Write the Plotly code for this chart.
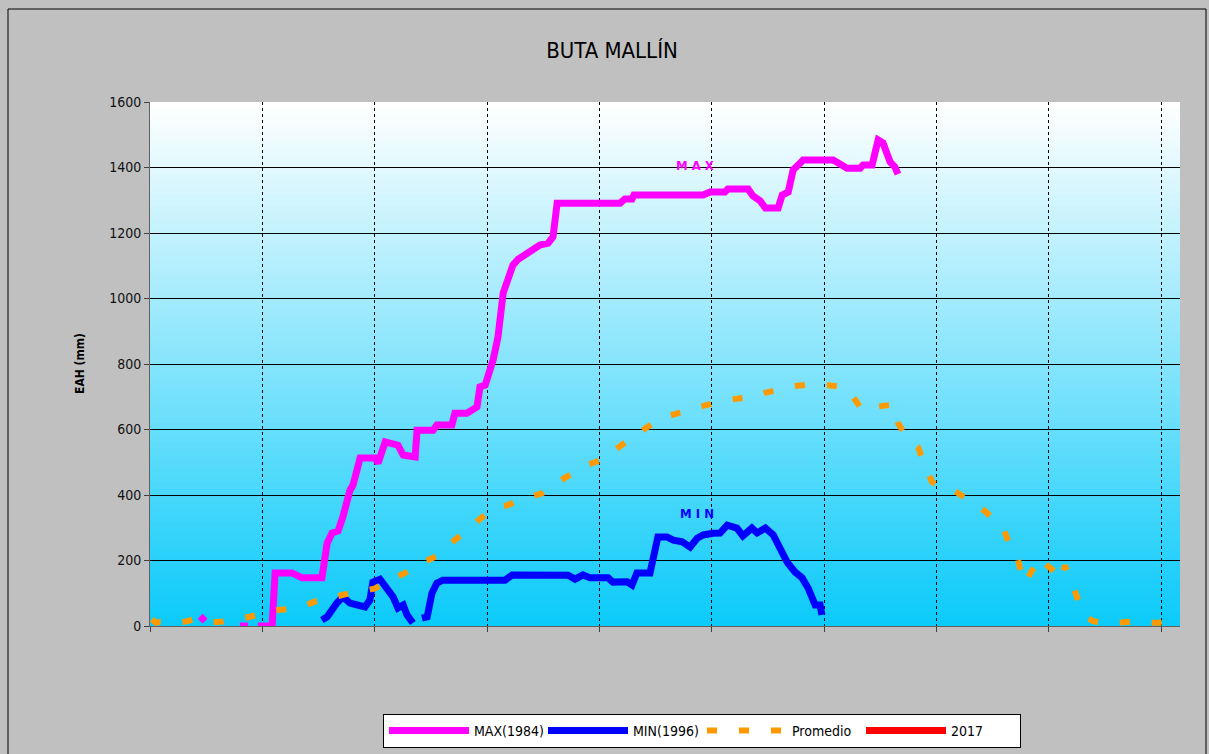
import plotly.graph_objects as go

# day index (0 = start of record), EAH in mm
max_day = [13.4, 14.7, None, 24.0, 26.2, None, 28.8, 32.6, 33.4, 37.9, 40.6, 45.9,
           47.3, 48.6, 50.2, 51.5, 53.4, 54.2, 56.1, 60.1, 60.9, 62.8, 66.2, 67.6,
           70.8, 71.3, 75.6, 76.6, 80.6, 81.4, 84.6, 87.3, 88.1, 89.5, 91.6, 92.9,
           94.3, 95.6, 96.9, 98.3, 100.1, 102.3, 104.1, 106.3, 107.6, 108.7, 125.5, 126.8,
           128.7, 129.2, 147.7, 149.5, 153.5, 154.3, 159.7, 161.0, 162.9, 164.3, 167.7, 168.8,
           170.4, 171.7, 174.4, 182.4, 186.1, 189.6, 190.4, 192.8, 194.4, 195.7, 197.6, 198.9, 199.7]
max_val = [30, 15, None, 0, 0, None, 0, 0, 162, 162, 147, 147,
           253, 284, 290, 333, 415, 430, 513, 513, 497, 562, 552, 522,
           516, 598, 598, 614, 614, 650, 650, 669, 730, 736, 812, 882,
           1017, 1056, 1102, 1120, 1133, 1154, 1163, 1169, 1188, 1291, 1291, 1304,
           1304, 1316, 1316, 1325, 1325, 1334, 1334, 1313, 1298, 1276, 1276, 1316,
           1325, 1392, 1423, 1423, 1398, 1398, 1408, 1408, 1484, 1475, 1417, 1401, 1380]

min_day = [45.9, 47.3, 49.9, 51.5, 53.4, 55.3, 57.4, 58.7, 59.5, 61.4, 63.3, 64.9,
           66.2, 67.6, 68.6, 70.2, None, 72.6, 74.0, 75.3, 76.6, 78.2,
           94.8, 96.7, 111.6, 113.5, 115.6, 117.5, 122.3, 123.6, 127.4, 128.7, 130.0, 133.5,
           135.6, 138.0, 139.7, 142.1, 144.2, 146.1, 147.7, 150.3, 152.2, 154.1, 156.7, 158.3,
           160.7, 162.1, 164.3, 166.4, 168.2, 170.1, 172.2, 174.1, 175.7, 177.6, 178.9, 179.4]
min_val = [18, 28, 70, 89, 70, 64, 58, 79, 134, 143, 116, 89,
           55, 64, 34, 9, None, 24, 28, 101, 131, 140,
           140, 156, 155, 143, 156, 147, 147, 134, 135, 125, 162, 162,
           272, 272, 262, 257, 241, 268, 278, 283, 284, 308, 299, 275,
           299, 284, 299, 278, 238, 195, 165, 147, 116, 64, 64, 34]

prom_day = [0.5, 1.6, 2.7, 6.7, 10.1, 11.5, 12.8, 16.0, 19.5, 21.4, 25.4, 28.8,
            30.7, 34.7, 38.2, 40.9, 44.1, 47.3, 50.2, 53.4, 57.4, 60.1, 63.3, 66.2,
            68.6, 72.1, 74.8, 77.4, 80.6, 83.6, 86.2, 89.5, 92.7, 95.3, 98.8, 101.5,
            104.7, 107.6, 110.3, 113.0, 116.2, 118.8, 122.0, 124.4, 126.8, 130.0, 132.4, 134.8,
            137.5, 141.0, 144.2, 146.3, 149.0, 151.7, 154.3, 157.0, 159.4, 162.3, 164.2, 166.4,
            170.1, 172.2, 174.9, 178.4, 181.0, 183.7, 186.1, 188.3, 190.1, 192.8, 195.5, 198.4,
            199.7, 201.1, 202.4, 203.7, 205.1, 206.9, 208.8, 210.1, 212.3, 214.9, 217.6, 220.3,
            223.0, 224.8, 227.8, 229.1, 230.4, 231.5, 232.6, 233.6, 235.5, 237.6, 239.0, 240.9,
            242.2, 243.0, 244.3, 245.1, 246.2, 247.3, 248.3, 250.2, 251.8, 255.0, 257.7, 261.2,
            264.4, 267.0, 270.2, 271.0]
prom_val = [20, 10, 12, 8, 15, 20, 14, 10, 14, 20, 25, 35,
            42, 50, 52, 60, 75, 85, 92, 100, 108, 115, 135, 150,
            165, 190, 205, 218, 255, 285, 310, 340, 362, 368, 385, 395,
            405, 430, 450, 470, 490, 500, 515, 540, 560, 580, 605, 622,
            638, 650, 658, 668, 678, 684, 690, 696, 698, 702, 712, 718,
            728, 733, 736, 738, 735, 732, 725, 690, 660, 668, 672, 676,
            620, 590, 570, 558, 545, 490, 440, 430, 420, 412, 392, 372,
            350, 330, 300, 260, 235, 215, 160, 130, 170, 210, 190, 170,
            160, 140, 185, 160, 130, 95, 60, 25, 15, 8, 10, 12,
            15, 10, 12, 10]

# 2017 has no readings on the chart yet
y2017_day = [None]
y2017_val = [None]

FONT = "Liberation Sans Narrow, DejaVu Sans Condensed, Arial Narrow, sans-serif"

fig = go.Figure()

fig.add_trace(go.Scatter(x=max_day, y=max_val, mode="lines", name="MAX(1984)",
                         line=dict(color="#FF00FF", width=7)))
fig.add_trace(go.Scatter(x=min_day, y=min_val, mode="lines", name="MIN(1996)",
                         line=dict(color="#0000FF", width=7)))
fig.add_trace(go.Scatter(x=prom_day, y=prom_val, mode="lines", name="Promedio",
                         line=dict(color="#FF9900", width=6, dash="10px,22px")))
fig.add_trace(go.Scatter(x=y2017_day, y=y2017_val, mode="lines", name="2017",
                         line=dict(color="#FF0000", width=7)))

# white -> cyan gradient behind the plot
shapes = []
n = 80
for i in range(n):
    t = i / (n - 1)
    r = int(255 + (12 - 255) * t)
    g = int(255 + (203 - 255) * t)
    b = int(255 + (250 - 255) * t)
    shapes.append(dict(type="rect", xref="x domain", yref="y domain",
                       x0=0, x1=1, y0=max(0, 1 - (i + 1) / n - 0.004), y1=1 - i / n,
                       fillcolor=f"rgb({r},{g},{b})", line_width=0, layer="below"))
# outer frame
shapes.append(dict(type="rect", xref="paper", yref="paper",
                   x0=(8 - 150) / 1030, x1=(1206 - 150) / 1030,
                   y0=(626 - 800) / 524, y1=(626 - 9) / 524,
                   line=dict(color="black", width=1), fillcolor="rgba(0,0,0,0)"))
fig.update_layout(shapes=shapes)

fig.add_annotation(x=145.5, y=1407, text="<b>M A X</b>", showarrow=False,
                   font=dict(family=FONT, size=13, color="#FF00FF"))
fig.add_annotation(x=146, y=345, text="<b>M I N</b>", showarrow=False,
                   font=dict(family=FONT, size=13, color="#0000FF"))
fig.add_annotation(x=(80 - 150) / 1030, y=0.5, xref="paper", yref="paper",
                   xanchor="center", yanchor="middle",
                   text="<b>EAH (mm)</b>", textangle=-90, showarrow=False,
                   font=dict(family=FONT, size=12, color="black"))

fig.update_layout(
    width=1209, height=754,
    margin=dict(l=150, r=29, t=102, b=128, autoexpand=False),
    paper_bgcolor="#C0C0C0",
    plot_bgcolor="rgba(0,0,0,0)",
    title=dict(text="BUTA MALLÍN", x=(612 - 150) / 1030, xref="paper", xanchor="center",
               y=1 - 50 / 754, yanchor="middle",
               font=dict(family=FONT, size=22, color="black")),
    font=dict(family=FONT, size=13, color="#111"),
    showlegend=True,
    legend=dict(orientation="h", x=(383 - 150) / 1030, y=(626 - 714) / 524,
                xanchor="left", yanchor="top", bgcolor="white",
                bordercolor="black", borderwidth=1,
                font=dict(family=FONT, size=14, color="black"),
                entrywidth=64, itemwidth=80),
    xaxis=dict(range=[0, 275], tick0=0, dtick=30, showgrid=True, gridcolor="black",
               griddash="3px,3px", gridwidth=1, showticklabels=False, ticks="outside",
               ticklen=5, tickcolor="#404040", showline=True, linecolor="#606060",
               linewidth=1, zeroline=False),
    yaxis=dict(range=[0, 1600], tick0=0, dtick=200, showgrid=True, gridcolor="black",
               gridwidth=1, ticks="outside", ticklen=5, tickcolor="#404040",
               showline=True, linecolor="#606060", linewidth=1, zeroline=False,
               tickfont=dict(family=FONT, size=14, color="#111")),
)

fig.write_html("out.html", config={"displayModeBar": False},
               post_script="document.body.style.margin='0';")
